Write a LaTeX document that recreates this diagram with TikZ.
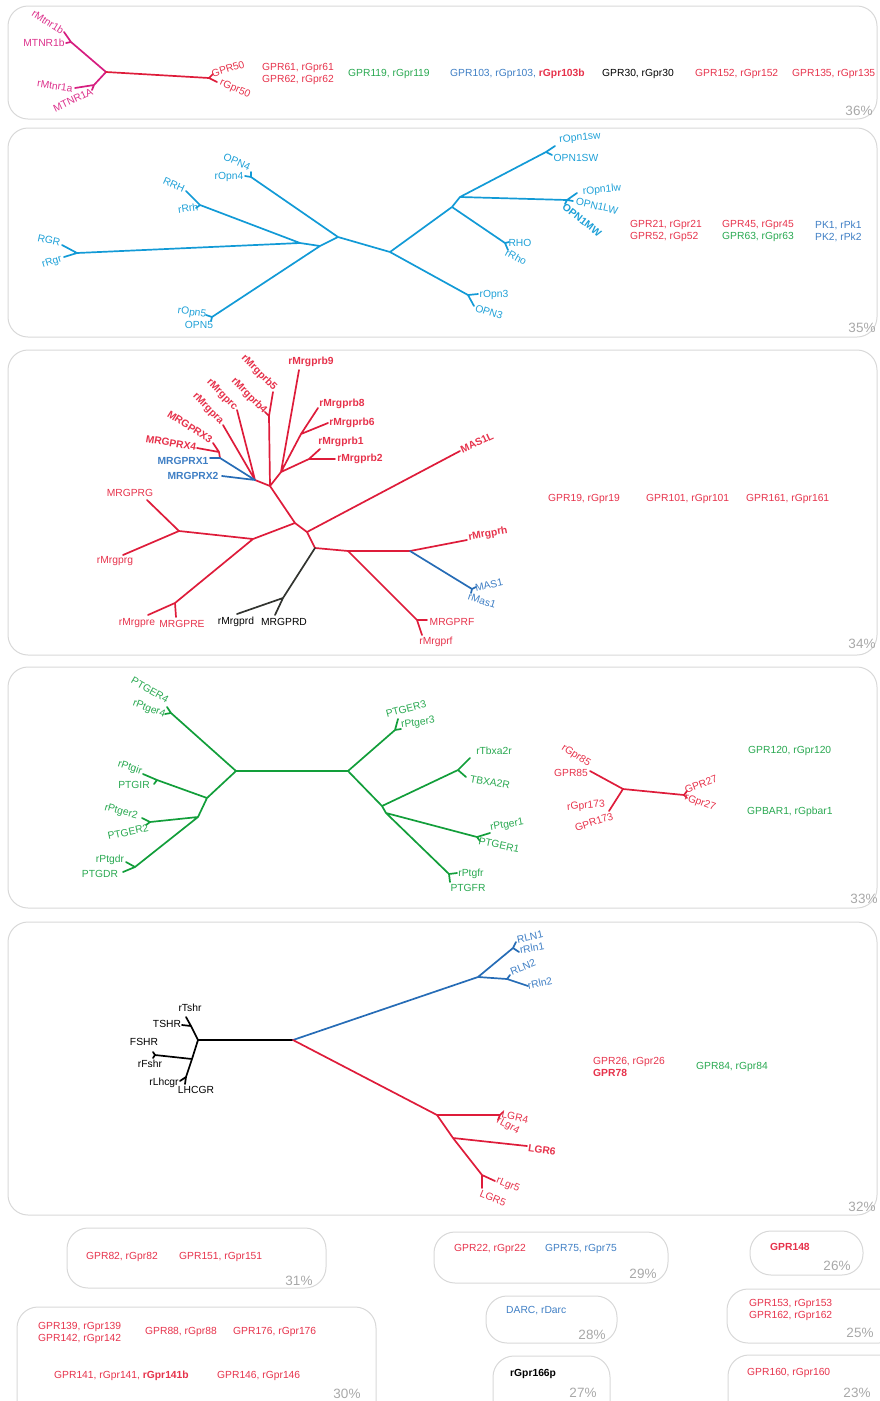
\documentclass[tikz,border=0pt]{standalone}
\usepackage{fontspec}
\setmainfont{Liberation Sans}
\usepackage{tikz}
\usepackage{xcolor}

\definecolor{lred}{RGB}{222,28,58}
\definecolor{tred}{RGB}{230,50,75}
\definecolor{lgrn}{RGB}{18,158,58}
\definecolor{tgrn}{RGB}{40,168,80}
\definecolor{lblu}{RGB}{38,108,182}
\definecolor{tblu}{RGB}{62,126,196}
\definecolor{lcya}{RGB}{18,154,214}
\definecolor{tcya}{RGB}{30,160,215}
\definecolor{lmag}{RGB}{214,30,128}
\definecolor{tmag}{RGB}{220,50,140}
\definecolor{dgry}{RGB}{50,52,48}
\definecolor{boxgray}{RGB}{216,216,216}
\definecolor{pctgray}{RGB}{168,168,168}

\newcommand{\labsize}{\fontsize{10.3}{12}\selectfont}
\newcommand{\pctsize}{\fontsize{13.5}{15}\selectfont}

\begin{document}
\begin{tikzpicture}[x=1pt,y=-1pt,
	panel/.style={draw=boxgray,line width=1pt,rounded corners=20pt},
	pill/.style={draw=boxgray,line width=1pt,rounded corners=21pt},
	br/.style={line width=1.7pt,line cap=round,line join=round},
	lab/.style={font=\labsize,inner sep=0pt},
	lbf/.style={font=\labsize\bfseries,inner sep=0pt},
	lst/.style={font=\labsize,inner sep=0pt,anchor=west,align=left},
	pct/.style={font=\pctsize,text=pctgray,inner sep=0pt}]
	
	\useasboundingbox (0,0) rectangle (880,1401);
	
	% 36% : melatonin group
	\draw[panel] (8,6) rectangle (877,119);
	\coordinate (mt) at (106,72);
	\coordinate (mtB) at (71,42);
	\coordinate (mtBr) at (64,32);
	\coordinate (mtBh) at (66,43);
	\coordinate (mtA) at (94,85);
	\coordinate (mtAr) at (75,88);
	\coordinate (mtAh) at (92,90);
	\coordinate (g50) at (209,78);
	\coordinate (g50h) at (213,74);
	\coordinate (g50r) at (217,82);
	\draw[br,lmag] (mtBr) -- (mtB) -- (mt) -- (mtA) -- (mtAr) (mtB) -- (mtBh) (mtA) -- (mtAh);
	\draw[br,lred] (mt) -- (g50) -- (g50h) (g50) -- (g50r);
	\node[lab,text=tmag,rotate=-32] (lMt1br) at (48,22) {rMtnr1b};
	\node[lab,text=tmag] (lMt1bh) at (44,43) {MTNR1b};
	\node[lab,text=tmag,rotate=-8] (lMt1ar) at (55,86) {rMtnr1a};
	\node[lab,text=tmag,rotate=25] (lMt1ah) at (73,100) {MTNR1A};
	\node[lab,text=tred,rotate=17] (lG50h) at (228,69) {GPR50};
	\node[lab,text=tred,rotate=-24] (lG50r) at (235,89) {rGpr50};
	\node[lst,text=tred] (t61) at (262,74) {GPR61, rGpr61\\GPR62, rGpr62};
	\node[lst,text=tgrn] (t119) at (348,74) {GPR119, rGpr119};
	\node[lst,text=tblu] (t103) at (450,74) {GPR103, rGpr103, \textcolor{tred}{\bfseries rGpr103b}};
	\node[lst,text=black] (t30) at (602,74) {GPR30, rGpr30};
	\node[lst,text=tred] (t152) at (695,74) {GPR152, rGpr152};
	\node[lst,text=tred] (t135) at (792,74) {GPR135, rGpr135};
	\node[pct] (p36) at (859,111) {36\%};
	
	% 35% : opsins
	\draw[panel] (8,128) rectangle (877,337);
	\coordinate (o1) at (300,243);
	\coordinate (o2) at (320,246);
	\coordinate (o3) at (338,237);
	\coordinate (o4) at (390,252);
	\coordinate (o5) at (452,207);
	\coordinate (o6) at (460,197);
	\coordinate (rgr) at (77,253);
	\coordinate (rgrA) at (62,245);
	\coordinate (rgrB) at (64,257);
	\coordinate (rrh) at (200,205);
	\coordinate (rrhA) at (186,191);
	\coordinate (rrhB) at (196,208);
	\coordinate (op4) at (251,177);
	\coordinate (op4A) at (251,172);
	\coordinate (op4B) at (245,176);
	\coordinate (op5) at (212,317);
	\coordinate (op5A) at (206,315);
	\coordinate (op5B) at (211,321);
	\coordinate (sw) at (546,152);
	\coordinate (swA) at (555,146);
	\coordinate (swB) at (552,155);
	\coordinate (lw) at (567,200);
	\coordinate (lwA) at (577,193);
	\coordinate (lwB) at (573,201);
	\coordinate (lwC) at (565,204);
	\coordinate (rho) at (505,243);
	\coordinate (rhoA) at (509,242);
	\coordinate (rhoB) at (508,250);
	\coordinate (op3) at (468,295);
	\coordinate (op3A) at (478,294);
	\coordinate (op3B) at (474,306);
	\draw[br,lcya] (rgrA) -- (rgr) -- (rgrB) (rgr) -- (o1) (rrhA) -- (rrh) -- (rrhB) (rrh) -- (o1) -- (o2) -- (o3) -- (o4) -- (o5) -- (o6) -- (sw) -- (swA) (sw) -- (swB) (o6) -- (lw) -- (lwA) (lw) -- (lwB) (lw) -- (lwC) (o5) -- (rho) -- (rhoA) (rho) -- (rhoB) (o4) -- (op3) -- (op3A) (op3) -- (op3B) (op5A) -- (op5) -- (op5B) (op5) -- (o2) (op4A) -- (op4) -- (op4B) (op4) -- (o3);
	\node[lab,text=tcya,rotate=-12] (lRGR) at (49,240) {RGR};
	\node[lab,text=tcya,rotate=18] (lrRgr) at (52,262) {rRgr};
	\node[lab,text=tcya,rotate=-24] (lRRH) at (174,185) {RRH};
	\node[lab,text=tcya,rotate=8] (lrRrh) at (188,208) {rRrh};
	\node[lab,text=tcya,rotate=-24] (lOPN4) at (237,162) {OPN4};
	\node[lab,text=tcya] (lrOpn4) at (229,177) {rOpn4};
	\node[lab,text=tcya,rotate=-8] (lrOpn5) at (192,313) {rOpn5};
	\node[lab,text=tcya] (lOPN5) at (199,325) {OPN5};
	\node[lab,text=tcya,rotate=5] (lrOpnsw) at (580,138) {rOpn1sw};
	\node[lab,text=tcya] (lOPNSW) at (576,158) {OPN1SW};
	\node[lab,text=tcya,rotate=5] (lrOpnlw) at (602,190) {rOpn1lw};
	\node[lab,text=tcya,rotate=-13] (lOPNLW) at (597,206) {OPN1LW};
	\node[lbf,text=tcya,rotate=-38] (lOPNMW) at (582,220) {OPN1MW};
	\node[lab,text=tcya] (lRHO) at (520,243) {RHO};
	\node[lab,text=tcya,rotate=-28] (lrRho) at (516,257) {rRho};
	\node[lab,text=tcya] (lrOpn3) at (494,295) {rOpn3};
	\node[lab,text=tcya,rotate=-18] (lOPN3) at (489,312) {OPN3};
	\node[lst,text=tred] (t21) at (630,231) {GPR21, rGpr21\\GPR52, rGp52};
	\node[lst,text=tred] (t45) at (722,225) {GPR45, rGpr45};
	\node[lst,text=tgrn] (t63) at (722,237) {GPR63, rGpr63};
	\node[lst,text=tblu] (tpk) at (815,231) {PK1, rPk1\\PK2, rPk2};
	\node[pct] (p35) at (862,328) {35\%};
	
	% 34% : Mrg receptors
	\draw[panel] (8,350) rectangle (877,655);
	\coordinate (q0) at (295,523);
	\coordinate (q1) at (307,532);
	\coordinate (q2) at (315,548);
	\coordinate (q3) at (348,551);
	\coordinate (q4) at (410,551);
	\coordinate (q5) at (253,539);
	\coordinate (a0) at (270,486);
	\coordinate (a1) at (255,480);
	\coordinate (a2) at (281,472);
	\coordinate (a3) at (301,434);
	\coordinate (a4) at (309,459);
	\coordinate (a5) at (269,416);
	\coordinate (mb9) at (299,370);
	\coordinate (mb8) at (318,408);
	\coordinate (mb6) at (328,423);
	\coordinate (mb1) at (320,449);
	\coordinate (mb2) at (335,459);
	\coordinate (mb5) at (273,392);
	\coordinate (mb4) at (265,412);
	\coordinate (mc) at (237,410);
	\coordinate (ma) at (223,425);
	\coordinate (x34) at (219,452);
	\coordinate (x3) at (213,443);
	\coordinate (x4) at (197,448);
	\coordinate (xj) at (220,458);
	\coordinate (x1) at (210,458);
	\coordinate (x2) at (222,476);
	\coordinate (mas1l) at (460,451);
	\coordinate (mgg) at (179,531);
	\coordinate (mgG) at (147,500);
	\coordinate (mgr) at (123,555);
	\coordinate (mee) at (175,603);
	\coordinate (mer) at (148,615);
	\coordinate (meE) at (176,617);
	\coordinate (mdd) at (283,598);
	\coordinate (mdr) at (237,614);
	\coordinate (mdD) at (275,615);
	\coordinate (mff) at (417,620);
	\coordinate (mfF) at (427,620);
	\coordinate (mfr) at (422,635);
	\coordinate (mhh) at (467,540);
	\coordinate (ms) at (472,589);
	\coordinate (msA) at (476,587);
	\coordinate (msB) at (471,593);
	\draw[br,lred] (q0) -- (a0) (a0) -- (a5) -- (mb5) (a5) -- (mb4) (a0) -- (a2) -- (mb9) (a2) -- (a3) -- (mb8) (a3) -- (mb6) (a2) -- (a4) -- (mb1) (a4) -- (mb2) (a0) -- (a1) -- (mc) (a1) -- (ma) (x3) -- (x34) -- (x4) (x34) -- (xj) (q0) -- (q1) -- (mas1l) (q1) -- (q2) -- (q3) -- (q4) -- (mhh) (q3) -- (mff) -- (mfF) (mff) -- (mfr) (q0) -- (q5) -- (mgg) -- (mgG) (mgg) -- (mgr) (q5) -- (mee) -- (mer) (mee) -- (meE);
	\draw[br,lblu] (x1) -- (xj) -- (a1) (x2) -- (a1) (q4) -- (ms) -- (msA) (ms) -- (msB);
	\draw[br,dgry] (q2) -- (mdd) -- (mdr) (mdd) -- (mdD);
	\node[lbf,text=tred] (lb9) at (311,362) {rMrgprb9};
	\node[lbf,text=tred] (lb8) at (342,404) {rMrgprb8};
	\node[lbf,text=tred] (lb6) at (352,423) {rMrgprb6};
	\node[lbf,text=tred] (lb1) at (341,442) {rMrgprb1};
	\node[lbf,text=tred] (lb2) at (360,459) {rMrgprb2};
	\node[lbf,text=tred,rotate=-45] (lb5) at (259,373) {rMrgprb5};
	\node[lbf,text=tred,rotate=-45] (lb4) at (249,396) {rMrgprb4};
	\node[lbf,text=tred,rotate=-45] (lc) at (222,395) {rMrgprc};
	\node[lbf,text=tred,rotate=-45] (la) at (208,409) {rMrgpra};
	\node[lbf,text=tred,rotate=-33] (lx3) at (190,427) {MRGPRX3};
	\node[lbf,text=tred,rotate=-10] (lx4) at (171,443) {MRGPRX4};
	\node[lbf,text=tblu] (lx1) at (183,461) {MRGPRX1};
	\node[lbf,text=tblu] (lx2) at (193,476) {MRGPRX2};
	\node[lbf,text=tred,rotate=25] (lmas1l) at (477,443) {MAS1L};
	\node[lab,text=tred] (lgG) at (130,493) {MRGPRG};
	\node[lab,text=tred] (lgr) at (115,561) {rMrgprg};
	\node[lab,text=tred] (ler) at (137,623) {rMrgpre};
	\node[lab,text=tred] (leE) at (182,624) {MRGPRE};
	\node[lab,text=black] (ldr) at (236,622) {rMrgprd};
	\node[lab,text=black] (ldD) at (284,622) {MRGPRD};
	\node[lab,text=tred] (lfF) at (452,622) {MRGPRF};
	\node[lab,text=tred] (lfr) at (436,642) {rMrgprf};
	\node[lbf,text=tred,rotate=10] (lh) at (488,534) {rMrgprh};
	\node[lab,text=tblu,rotate=12] (lmas1) at (489,585) {MAS1};
	\node[lab,text=tblu,rotate=-18] (lrmas1) at (482,601) {rMas1};
	\node[lst,text=tred] (t19) at (548,499) {GPR19, rGpr19};
	\node[lst,text=tred] (t101) at (646,499) {GPR101, rGpr101};
	\node[lst,text=tred] (t161) at (746,499) {GPR161, rGpr161};
	\node[pct] (p34) at (862,644) {34\%};
	
	% 33% : prostanoid receptors
	\draw[panel] (8,667) rectangle (877,908);
	\coordinate (pl) at (236,771);
	\coordinate (pr) at (348,771);
	\coordinate (pl1) at (207,798);
	\coordinate (pl2) at (198,817);
	\coordinate (e4) at (171,713);
	\coordinate (e4h) at (167,707);
	\coordinate (e4r) at (165,714);
	\coordinate (gir) at (157,780);
	\coordinate (girr) at (143,774);
	\coordinate (girh) at (154,784);
	\coordinate (e2) at (150,822);
	\coordinate (e2r) at (142,818);
	\coordinate (e2h) at (146,825);
	\coordinate (gdr) at (135,867);
	\coordinate (gdrr) at (126,862);
	\coordinate (gdrh) at (123,872);
	\coordinate (e3) at (395,730);
	\coordinate (e3h) at (398,719);
	\coordinate (e3r) at (401,729);
	\coordinate (pr1) at (382,806);
	\coordinate (pr2) at (386,813);
	\coordinate (tbx) at (458,770);
	\coordinate (tbxr) at (470,758);
	\coordinate (tbxh) at (466,777);
	\coordinate (e1) at (477,837);
	\coordinate (e1r) at (490,833);
	\coordinate (e1h) at (480,841);
	\coordinate (gfr) at (449,874);
	\coordinate (gfrr) at (457,873);
	\coordinate (gfrh) at (450,882);
	\draw[br,lgrn] (pl) -- (pr) (pl) -- (e4) -- (e4h) (e4) -- (e4r) (pl) -- (pl1) -- (pl2) (pl1) -- (gir) -- (girr) (gir) -- (girh) (pl2) -- (e2) -- (e2r) (e2) -- (e2h) (pl2) -- (gdr) -- (gdrr) (gdr) -- (gdrh) (pr) -- (e3) -- (e3h) (e3) -- (e3r) (pr) -- (pr1) -- (pr2) (pr1) -- (tbx) -- (tbxr) (tbx) -- (tbxh) (pr2) -- (e1) -- (e1r) (e1) -- (e1h) (pr2) -- (gfr) -- (gfrr) (gfr) -- (gfrh);
	\node[lab,text=tgrn,rotate=-30] (le4h) at (150,690) {PTGER4};
	\node[lab,text=tgrn,rotate=-20] (le4r) at (149,709) {rPtger4};
	\node[lab,text=tgrn,rotate=-18] (lgirr) at (130,768) {rPtgir};
	\node[lab,text=tgrn] (lgirh) at (134,785) {PTGIR};
	\node[lab,text=tgrn,rotate=-15] (le2r) at (121,812) {rPtger2};
	\node[lab,text=tgrn,rotate=12] (le2h) at (128,832) {PTGER2};
	\node[lab,text=tgrn] (lgdrr) at (110,860) {rPtgdr};
	\node[lab,text=tgrn] (lgdrh) at (100,874) {PTGDR};
	\node[lab,text=tgrn,rotate=15] (le3h) at (406,709) {PTGER3};
	\node[lab,text=tgrn,rotate=8] (le3r) at (418,723) {rPtger3};
	\node[lab,text=tgrn] (ltbxr) at (494,751) {rTbxa2r};
	\node[lab,text=tgrn,rotate=-10] (ltbxh) at (490,782) {TBXA2R};
	\node[lab,text=tgrn,rotate=10] (le1r) at (507,825) {rPtger1};
	\node[lab,text=tgrn,rotate=-12] (le1h) at (499,845) {PTGER1};
	\node[lab,text=tgrn] (lgfrr) at (471,874) {rPtgfr};
	\node[lab,text=tgrn] (lgfrh) at (468,888) {PTGFR};
	% GPR85 group
	\coordinate (c85) at (623,789);
	\coordinate (g85) at (590,771);
	\coordinate (g173) at (609,811);
	\coordinate (g27) at (684,795);
	\coordinate (g27h) at (687,791);
	\coordinate (g27r) at (687,798);
	\draw[br,lred] (g85) -- (c85) -- (g173) (c85) -- (g27) -- (g27h) (g27) -- (g27r);
	\node[lab,text=tred,rotate=-33] (lr85) at (576,756) {rGpr85};
	\node[lab,text=tred] (lg85) at (571,773) {GPR85};
	\node[lab,text=tred,rotate=5] (lr173) at (586,806) {rGpr173};
	\node[lab,text=tred,rotate=18] (lg173) at (594,822) {GPR173};
	\node[lab,text=tred,rotate=20] (lg27) at (701,784) {GPR27};
	\node[lab,text=tred,rotate=-20] (lr27) at (700,803) {rGpr27};
	\node[lst,text=tgrn] (t120) at (748,751) {GPR120, rGpr120};
	\node[lst,text=tgrn] (tbar) at (747,812) {GPBAR1, rGpbar1};
	\node[pct] (p33) at (864,899) {33\%};
	
	% 32% : glycoprotein hormone and relaxin receptors
	\draw[panel] (8,922) rectangle (877,1215);
	\coordinate (lc0) at (198,1040);
	\coordinate (lc1) at (293,1040);
	\coordinate (rl) at (478,977);
	\coordinate (rl1) at (513,948);
	\coordinate (rl1h) at (516,942);
	\coordinate (rl1r) at (519,952);
	\coordinate (rl2) at (507,979);
	\coordinate (rl2h) at (510,975);
	\coordinate (rl2r) at (528,986);
	\coordinate (lg) at (437,1115);
	\coordinate (lg4) at (500,1115);
	\coordinate (lg4h) at (503,1112);
	\coordinate (lg4r) at (498,1120);
	\coordinate (lg2) at (453,1138);
	\coordinate (lg6) at (527,1146);
	\coordinate (lg5) at (482,1175);
	\coordinate (lg5r) at (495,1181);
	\coordinate (lg5h) at (482,1188);
	\coordinate (ts) at (191,1026);
	\coordinate (tsr) at (186,1017);
	\coordinate (tsh) at (182,1025);
	\coordinate (fsj) at (192,1059);
	\coordinate (fs) at (155,1055);
	\coordinate (fsh) at (153,1052);
	\coordinate (fsr) at (153,1058);
	\coordinate (lhc) at (186,1077);
	\coordinate (lhcr) at (180,1081);
	\coordinate (lhch) at (185,1084);
	\draw[br,black] (lc0) -- (lc1) (lc0) -- (ts) -- (tsr) (ts) -- (tsh) (lc0) -- (fsj) -- (lhc) -- (lhcr) (lhc) -- (lhch) (fsj) -- (fs) -- (fsh) (fs) -- (fsr);
	\draw[br,lblu] (lc1) -- (rl) -- (rl1) -- (rl1h) (rl1) -- (rl1r) (rl) -- (rl2) -- (rl2r) (rl2) -- (rl2h);
	\draw[br,lred] (lc1) -- (lg) -- (lg4) -- (lg4h) (lg4) -- (lg4r) (lg) -- (lg2) -- (lg6) (lg2) -- (lg5) -- (lg5r) (lg5) -- (lg5h);
	\node[lab,text=tblu,rotate=12] (lrln1) at (530,937) {RLN1};
	\node[lab,text=tblu,rotate=10] (lrrln1) at (532,948) {rRln1};
	\node[lab,text=tblu,rotate=22] (lrln2) at (523,967) {RLN2};
	\node[lab,text=tblu,rotate=12] (lrrln2) at (540,983) {rRln2};
	\node[lab,text=tred,rotate=-12] (llgr4) at (515,1117) {LGR4};
	\node[lab,text=tred,rotate=-28] (lrlgr4) at (508,1126) {rLgr4};
	\node[lbf,text=tred,rotate=-8] (llgr6) at (542,1150) {LGR6};
	\node[lab,text=tred,rotate=-22] (lrlgr5) at (508,1185) {rLgr5};
	\node[lab,text=tred,rotate=-22] (llgr5) at (493,1198) {LGR5};
	\node[lab,text=black] (lrtshr) at (190,1008) {rTshr};
	\node[lab,text=black] (ltshr) at (167,1024) {TSHR};
	\node[lab,text=black] (lfshr) at (144,1042) {FSHR};
	\node[lab,text=black] (lrfshr) at (150,1064) {rFshr};
	\node[lab,text=black] (lrlhcgr) at (164,1083) {rLhcgr};
	\node[lab,text=black] (llhcgr) at (196,1090) {LHCGR};
	\node[lst,text=tred] (t26) at (593,1067) {GPR26, rGpr26\\\bfseries GPR78};
	\node[lst,text=tgrn] (t84) at (696,1067) {GPR84, rGpr84};
	\node[pct] (p32) at (862,1207) {32\%};
	
	% smaller groups
	\draw[pill] (67,1228) rectangle (326,1288);
	\node[lst,text=tred] (t82) at (86,1257) {GPR82, rGpr82};
	\node[lst,text=tred] (t151) at (179,1257) {GPR151, rGpr151};
	\node[pct] (p31) at (299,1281) {31\%};
	
	\draw[pill] (17,1307) rectangle (376,1430);
	\node[lst,text=tred] (t139) at (38,1333) {GPR139, rGpr139\\GPR142, rGpr142};
	\node[lst,text=tred] (t88) at (145,1332) {GPR88, rGpr88};
	\node[lst,text=tred] (t176) at (233,1332) {GPR176, rGpr176};
	\node[lst,text=tred] (t141) at (54,1376) {GPR141, rGpr141, \bfseries rGpr141b};
	\node[lst,text=tred] (t146) at (217,1376) {GPR146, rGpr146};
	\node[pct] (p30) at (347,1394) {30\%};
	
	\draw[pill] (434,1232) rectangle (668,1283);
	\node[lst,text=tred] (t22) at (454,1249) {GPR22, rGpr22};
	\node[lst,text=tblu] (t75) at (545,1249) {GPR75, rGpr75};
	\node[pct] (p29) at (643,1274) {29\%};
	
	\draw[pill] (486,1296) rectangle (617,1343);
	\node[lst,text=tblu] (tdarc) at (506,1311) {DARC, rDarc};
	\node[pct] (p28) at (592,1335) {28\%};
	
	\draw[pill] (493,1356) rectangle (610,1430);
	\node[lst,text=black,font=\labsize\bfseries] (t166) at (510,1374) {rGpr166p};
	\node[pct] (p27) at (583,1393) {27\%};
	
	\draw[pill] (750,1231) rectangle (863,1275);
	\node[lst,text=tred,font=\labsize\bfseries] (t148) at (770,1247) {GPR148};
	\node[pct] (p26) at (837,1266) {26\%};
	
	\draw[pill] (727,1289) rectangle (900,1343);
	\node[lst,text=tred] (t153) at (749,1310) {GPR153, rGpr153\\GPR162, rGpr162};
	\node[pct] (p25) at (860,1333) {25\%};
	
	\draw[pill] (728,1355) rectangle (900,1430);
	\node[lst,text=tred] (t160) at (747,1373) {GPR160, rGpr160};
	\node[pct] (p23) at (857,1393) {23\%};
	
\end{tikzpicture}
\end{document}
